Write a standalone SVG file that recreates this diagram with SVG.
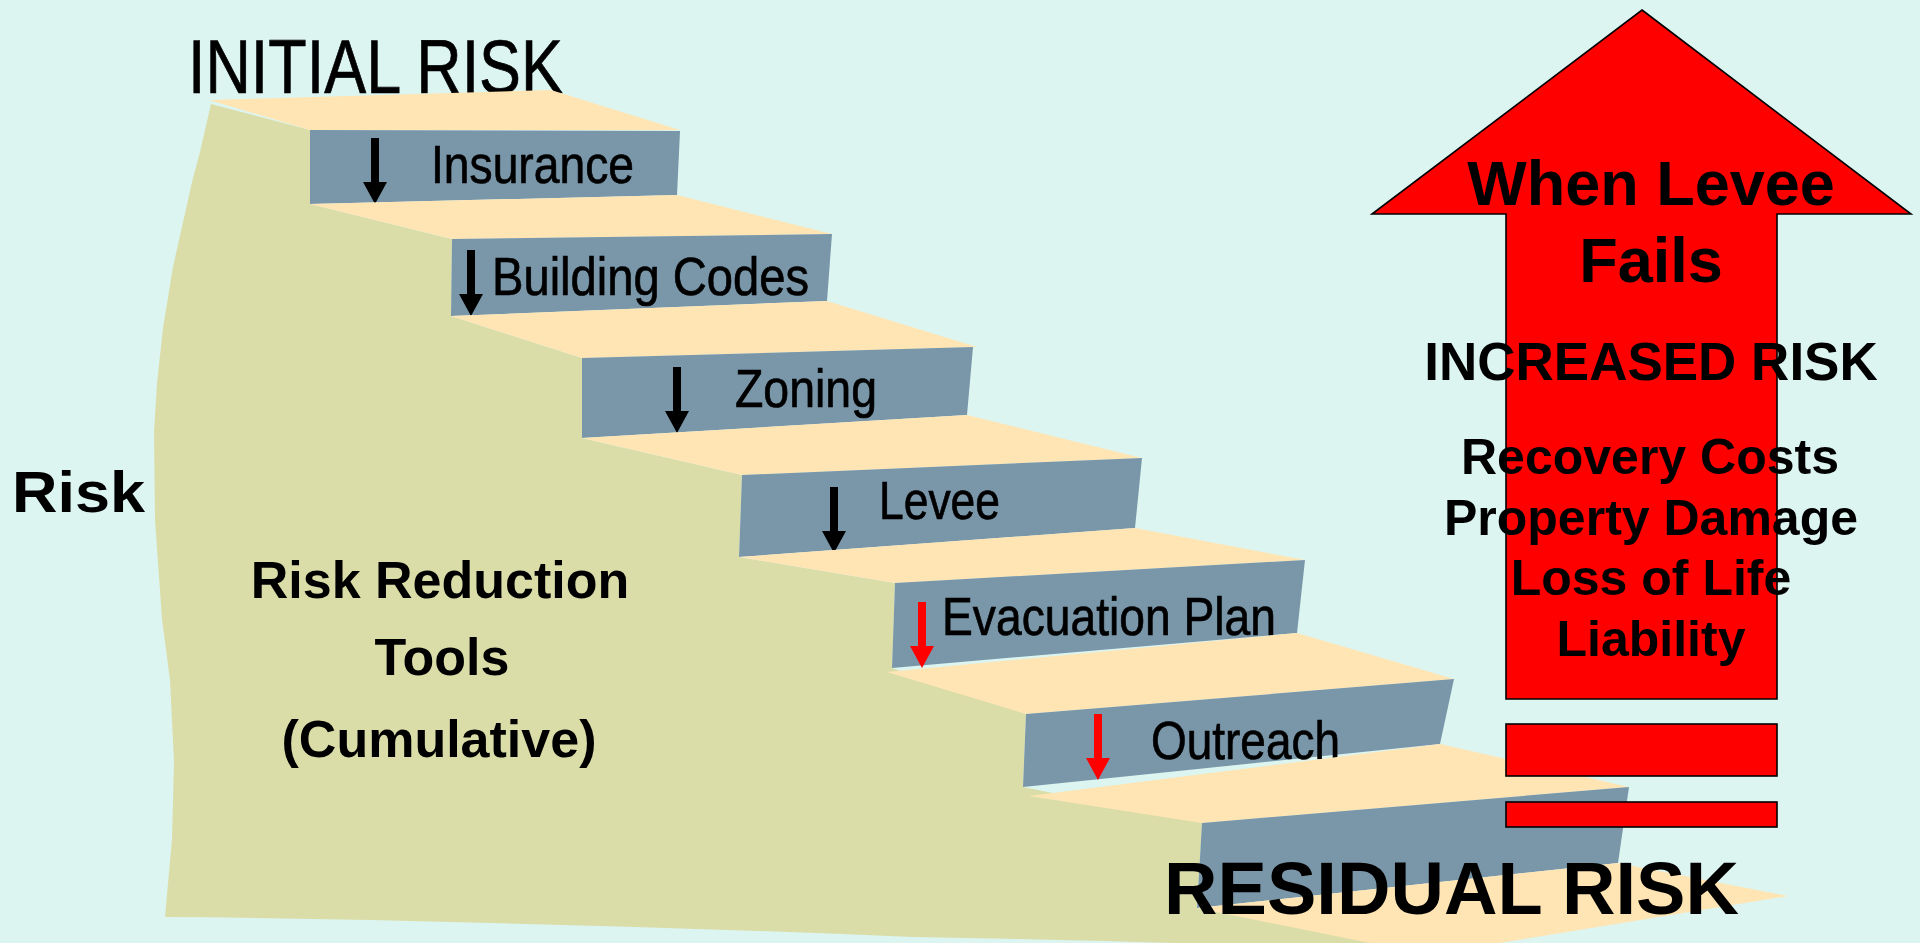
<svg xmlns="http://www.w3.org/2000/svg" width="1920" height="943" viewBox="0 0 1920 943">
  <style>
    .bg { fill: #dcf5f1; }
    .hill { fill: #dbdda9; }
    .tread { fill: #ffe5b4; }
    .riser { fill: #7a96a9; }
    .narrow { font-family: "Liberation Sans Narrow", "Liberation Sans", Arial, sans-serif; fill: #000; stroke: #000; stroke-width: 0.7; }
    .bold { font-family: "Liberation Sans", Arial, sans-serif; font-weight: bold; fill: #000; }
    .step-label { font-size: 53px; }
    .mid { text-anchor: middle; }
    .red { fill: #ff0000; stroke: #000; stroke-width: 1.6; }
    .down-black { fill: #000; }
    .down-red { fill: #ff0000; }
  </style>
  <defs>
    <!-- downward arrow, origin at the tip -->
    <path id="down" d="M-4,-66 h8 v44 h8 l-12,22 l-12,-22 h8 z"/>
  </defs>

  <rect class="bg" x="0" y="0" width="1920" height="943"/>

  <!-- hillside under the staircase -->
  <path id="hill" class="hill" d="M211,104 L310,130 L310,204 L452,239 L451,316 L582,358 L582,438 L742,475 L739,557 L895,583 L892,668 L1026,714 L1023,787 L1202,823 L1197,908 L1393,945 L1240,945 Q1080,940 912,937 Q700,928 491,923 Q320,918 165,917 L172,839 L174,762 L170,680 L162,619 L155,520 L154,432 L157,383 L163,328 L173,267 L192,182 L200,152 Z"/>

  <text class="narrow" x="188" y="93" font-size="76" textLength="375" lengthAdjust="spacingAndGlyphs">INITIAL RISK</text>

  <!-- staircase: each step is a tread plus a riser -->
  <g id="step-insurance">
    <polygon class="tread" points="209,100 551,90 680,130 310,130"/>
    <polygon class="riser" points="310,130 680,131 677,195 310,204"/>
    <use href="#down" class="down-black" transform="translate(375,204)"/>
    <text class="narrow step-label" x="431" y="183" textLength="203" lengthAdjust="spacingAndGlyphs">Insurance</text>
  </g>
  <g id="step-building-codes">
    <polygon class="tread" points="310,204 677,195 832,234 452,239"/>
    <polygon class="riser" points="452,239 832,234 827,301 451,316"/>
    <use href="#down" class="down-black" transform="translate(471,316)"/>
    <text class="narrow step-label" x="492" y="295" textLength="317" lengthAdjust="spacingAndGlyphs">Building Codes</text>
  </g>
  <g id="step-zoning">
    <polygon class="tread" points="451,316 827,301 977,347 582,358"/>
    <polygon class="riser" points="582,358 973,347 967,415 582,438"/>
    <use href="#down" class="down-black" transform="translate(677,433)"/>
    <text class="narrow step-label" x="735" y="407" textLength="142" lengthAdjust="spacingAndGlyphs">Zoning</text>
  </g>
  <g id="step-levee">
    <polygon class="tread" points="582,438 967,415 1142,458 742,475"/>
    <polygon class="riser" points="742,475 1142,458 1135,528 739,557"/>
    <use href="#down" class="down-black" transform="translate(834,553)"/>
    <text class="narrow step-label" x="879" y="519" textLength="121" lengthAdjust="spacingAndGlyphs">Levee</text>
  </g>
  <g id="step-evacuation-plan">
    <polygon class="tread" points="739,557 1135,528 1305,560 895,583"/>
    <polygon class="riser" points="895,583 1305,560 1297,633 892,668"/>
    <use href="#down" class="down-red" transform="translate(922,668)"/>
    <text class="narrow step-label" x="942" y="635" textLength="334" lengthAdjust="spacingAndGlyphs">Evacuation Plan</text>
  </g>
  <g id="step-outreach">
    <polygon class="tread" points="887,672 1297,633 1454,679 1026,714"/>
    <polygon class="riser" points="1026,714 1454,679 1440,744 1023,787"/>
    <use href="#down" class="down-red" transform="translate(1098,780)"/>
    <text class="narrow step-label" x="1151" y="759" textLength="189" lengthAdjust="spacingAndGlyphs">Outreach</text>
  </g>
  <g id="step-residual">
    <polygon class="tread" points="1029,796 1440,744 1629,787 1202,823"/>
    <polygon class="riser" points="1202,823 1629,787 1618,863 1197,908"/>
    <polygon class="tread" points="1197,908 1618,863 1788,896 1487,945 1380,945"/>
    <text class="bold" x="1164" y="914" font-size="74" textLength="575" lengthAdjust="spacingAndGlyphs">RESIDUAL RISK</text>
  </g>

  <g id="axis-label">
    <text class="bold" x="12" y="512" font-size="57" textLength="133" lengthAdjust="spacingAndGlyphs">Risk</text>
  </g>

  <g id="tools-label" class="bold mid" font-size="52">
    <text x="440" y="598">Risk Reduction</text>
    <text x="442" y="675">Tools</text>
    <text x="439" y="757">(Cumulative)</text>
  </g>

  <!-- levee failure: rising risk -->
  <g id="levee-fails">
    <polygon class="red" points="1642,10 1911,214 1777,214 1777,699 1506,699 1506,214 1372,214"/>
    <text class="bold mid" x="1651" y="205" font-size="63">When Levee</text>
    <text class="bold mid" x="1651" y="282" font-size="63">Fails</text>
    <text class="bold mid" x="1651" y="380" font-size="53">INCREASED RISK</text>
    <g class="bold mid" font-size="50">
      <text x="1650" y="474">Recovery Costs</text>
      <text x="1651" y="535">Property Damage</text>
      <text x="1651" y="595">Loss of Life</text>
      <text x="1651" y="656">Liability</text>
    </g>
  </g>
  <g id="risk-bars">
    <rect class="red" x="1506" y="724" width="271" height="52"/>
    <rect class="red" x="1506" y="802" width="271" height="25"/>
  </g>
</svg>
